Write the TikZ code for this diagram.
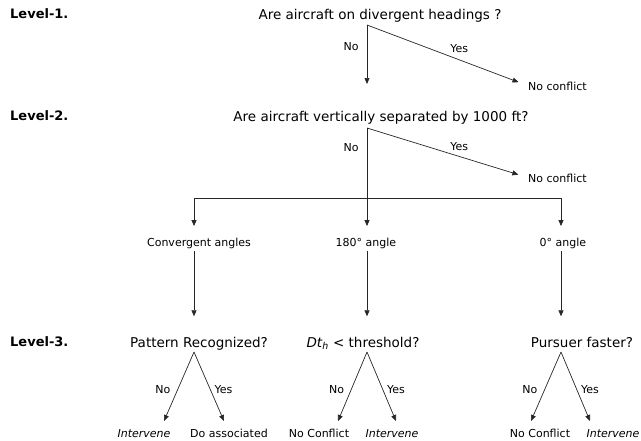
\documentclass[tikz,border=0pt]{standalone}
\usepackage{fontspec}
\setmainfont{DejaVu Sans}
\usetikzlibrary{arrows.meta}

\begin{document}
\begin{tikzpicture}[x=1pt,y=-1pt,
    line/.style={draw=black!85,line width=0.7pt},
    arr/.style={line,-{Triangle[length=6pt,width=5pt]}},
    quest/.style={font=\fontsize{13.5}{15}\selectfont,inner sep=2pt,text height=10pt,text depth=3pt},
    txt/.style={font=\fontsize{11}{12}\selectfont,inner sep=2pt,text height=8pt,text depth=2.5pt},
    leaf/.style={font=\fontsize{11}{13.5}\selectfont,inner sep=2pt,anchor=north,align=center},
    lab/.style={font=\fontsize{11}{12}\selectfont,inner sep=2pt},
    lvl/.style={font=\fontsize{13}{15}\selectfont\bfseries,anchor=west,inner sep=0pt}]
    \clip (0,0) rectangle (641,440);

    \node [lvl] (lv1) at (10,14) {Level-1.};
    \node [lvl] (lv2) at (10,116) {Level-2.};
    \node [lvl] (lv3) at (10,342) {Level-3.};

    \node [quest] (q1) at (380,15.5) {Are aircraft on divergent headings ?};
    \coordinate (a1) at (367,25);
    \coordinate (d1) at (367,84);
    \node [txt,anchor=west] (nc1) at (526,88) {No conflict};
    \draw [arr] (a1) -- node [lab,pos=0.37,left=6pt] {No} (d1);
    \draw [arr,shorten >=8pt] (a1) -- node [lab,pos=0.58,above=5pt] {Yes} ([yshift=3pt]nc1.west);

    \node [quest] (q2) at (381,117.5) {Are aircraft vertically separated by 1000 ft?};
    \coordinate (a2) at (367,128);
    \node [txt,anchor=west] (nc2) at (526,180) {No conflict};
    \draw [arr,shorten >=8pt] (a2) -- node [lab,pos=0.58,above=3pt] {Yes} ([yshift=3pt]nc2.west);

    \coordinate (bar) at (367,198);
    \coordinate (bl) at (194,198);
    \coordinate (br) at (561,198);
    \node [txt] (conv) at (199,244) {Convergent angles};
    \node [txt] (ang180) at (366,244) {180° angle};
    \node [txt] (ang0) at (563,244) {0° angle};
    \draw [arr,shorten >=10.5pt] (a2) -- node [lab,pos=0.18,left=6pt] {No} (bar |- ang180.north);
    \draw [arr,shorten >=10.5pt] (bar) -| (bl |- conv.north);
    \draw [arr,shorten >=10.5pt] (bar) -| (br |- ang0.north);

    \node [quest] (pat) at (199,343.5) {Pattern Recognized?};
    \node [quest] (dth) at (363,343.5) {\textit{Dt\textsubscript{h}} < threshold?};
    \node [quest] (pur) at (582,343.5) {Pursuer faster?};
    \draw [arr,shorten >=18.5pt] (bl |- conv.south) -- (bl |- pat.north);
    \draw [arr,shorten >=18.5pt] (bar |- ang180.south) -- (bar |- dth.north);
    \draw [arr,shorten >=18.5pt] (br |- ang0.south) -- (br |- pur.north);

    \coordinate (p1) at (194,352);
    \coordinate (p2) at (367,352);
    \coordinate (p3) at (561,352);
    \coordinate (p1n) at (164,421);
    \coordinate (p1y) at (224,421);
    \coordinate (p2n) at (338,421);
    \coordinate (p2y) at (396,421);
    \coordinate (p3n) at (531,421);
    \coordinate (p3y) at (590,421);

    \node [leaf] (int1) at (144,427) {\textit{Intervene}};
    \node [leaf] (act1) at (229,427) {Do associated\\action};
    \node [leaf] (nc3) at (319,427) {No Conflict};
    \node [leaf] (int2) at (392,427) {\textit{Intervene}};
    \node [leaf] (nc4) at (540,427) {No Conflict};
    \node [leaf] (int3) at (613,427) {\textit{Intervene}};

    \draw [arr] (p1) -- node [lab,pos=0.54,left=5pt] {No} (p1n);
    \draw [arr] (p1) -- node [lab,pos=0.54,right=2pt] {Yes} (p1y);
    \draw [arr] (p2) -- node [lab,pos=0.54,left=5pt] {No} (p2n);
    \draw [arr] (p2) -- node [lab,pos=0.54,right=2pt] {Yes} (p2y);
    \draw [arr] (p3) -- node [lab,pos=0.54,left=5pt] {No} (p3n);
    \draw [arr] (p3) -- node [lab,pos=0.54,right=2pt] {Yes} (p3y);
\end{tikzpicture}
\end{document}
